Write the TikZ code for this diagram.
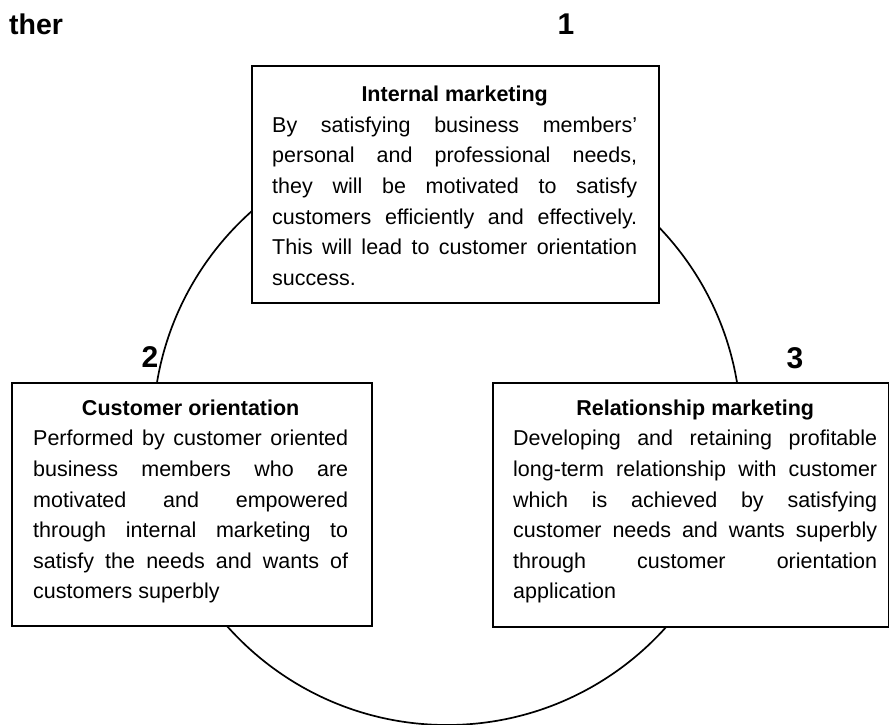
\documentclass[tikz,border=0pt]{standalone}
\usepackage{fontspec}
\setmainfont{Liberation Sans}
\tolerance=10000
\hbadness=10000
\hyphenpenalty=10000
\setlength\parindent{0pt}
\begin{document}
\begin{tikzpicture}[x=1pt,y=-1pt,
  box/.style={draw, line width=2.2pt, fill=white, inner sep=0pt, anchor=north west},
  body/.style={inner sep=0pt, anchor=north west, align=justify,
    font=\fontsize{21.5}{30.6}\selectfont},
  num/.style={font=\fontsize{30}{30}\selectfont\bfseries, inner sep=0pt, anchor=base},
  cycle/.style={line width=1.7pt}]
\useasboundingbox (0,0) rectangle (889,725);

% cycle linking the three stages
\draw[cycle] (447,431) circle[radius=294pt];

% stage boxes
\node[box, minimum width=407pt, minimum height=237pt] (imbox) at (251,65) {};
\node[box, minimum width=360pt, minimum height=243pt] (cobox) at (11,382) {};
\node[box, minimum width=396pt, minimum height=244pt] (rmbox) at (492,382) {};

% box texts
\node[body, text width=365pt] (imtext) at (272,86) {%
  {\centering\bfseries Internal marketing\par}
  By satisfying business members'\linebreak
  personal and professional needs,\linebreak
  they will be motivated to satisfy\linebreak
  customers efficiently and effectively.\linebreak
  This will lead to customer orientation\linebreak
  success.};
\node[body, text width=315pt] (cotext) at (33,399.5) {%
  {\centering\bfseries Customer orientation\par}
  Performed by customer oriented\linebreak
  business members who are\linebreak
  motivated and empowered\linebreak
  through internal marketing to\linebreak
  satisfy the needs and wants of\linebreak
  customers superbly};
\node[body, text width=364pt] (rmtext) at (513,399.5) {%
  {\centering\bfseries Relationship marketing\par}
  Developing and retaining profitable\linebreak
  long-term relationship with customer\linebreak
  which is achieved by satisfying\linebreak
  customer needs and wants superbly\linebreak
  through customer orientation\linebreak
  application};

% stage numbers and heading fragment
\node[num] (n1) at (566,35) {1};
\node[num] (n2) at (150,367) {2};
\node[num] (n3) at (795,368) {3};
\node[inner sep=0pt, anchor=base west, font=\fontsize{28.5}{28.5}\selectfont\bfseries] (head) at (9,35) {ther};
\end{tikzpicture}
\end{document}
